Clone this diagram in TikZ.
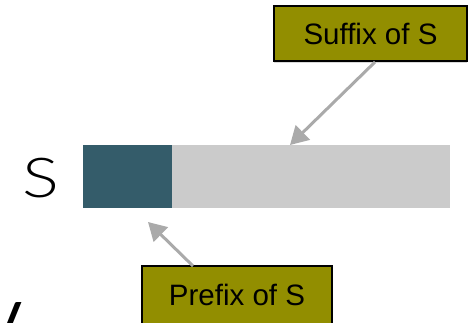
\documentclass[tikz,border=0pt]{standalone}
\usepackage{fontspec}
\setmainfont{Liberation Sans}
\newfontfamily\lightfont{Lato}[UprightFont=* Light]
\newfontfamily\latofont{Lato}
\usetikzlibrary{arrows.meta,shadows}
\definecolor{olivebox}{RGB}{146,142,0}
\definecolor{darkteal}{RGB}{52,92,106}
\definecolor{lightbar}{RGB}{203,203,203}
\definecolor{arrowgrey}{RGB}{170,170,170}
\begin{document}
\begin{tikzpicture}[x=1pt,y=-1pt,
  labelbox/.style={draw=black, line width=1.5pt, fill=olivebox, inner sep=0pt,
    font=\fontsize{29.5}{29.5}\selectfont,
    drop shadow={opacity=0.3, shadow xshift=0pt, shadow yshift=-2.5pt}},
  pointer/.style={draw=arrowgrey, line width=3pt, -{Triangle[length=18pt,width=20pt]}},
  barpart/.style={draw=none, inner sep=0pt, minimum height=63pt},
  biglabel/.style={inner sep=0pt, font=\lightfont\fontsize{55}{55}\selectfont}]
\useasboundingbox (0,0) rectangle (468,323);
% string bar
\node[barpart, fill=darkteal, minimum width=89pt, anchor=north west] (pre) at (83,145) {};
\node[barpart, fill=lightbar, minimum width=278pt, anchor=north west] (suf) at (172,145) {};
% label S and partial letter
\node[biglabel, anchor=base, xscale=1.25] (slabel) at (40.5,197) {S};
\node[inner sep=0pt, font=\latofont\fontsize{60}{60}\selectfont, anchor=base west] (vlabel) at (-19,345) {V};
% boxes
\node[labelbox, minimum width=193pt, minimum height=55pt] (sufbox) at (370.5,33.5) {Suffix of S};
\node[labelbox, minimum width=190pt, minimum height=58pt] (prebox) at (237,295) {Prefix of S};
% connector ends
\coordinate (suftip) at (290,145);
\coordinate (pretip) at (148,222);
\coordinate (sufstart) at (375,62);
\coordinate (prestart) at (193,266);
\draw[pointer] (sufstart) -- (suftip);
\draw[pointer] (prestart) -- (pretip);
\end{tikzpicture}
\end{document}
